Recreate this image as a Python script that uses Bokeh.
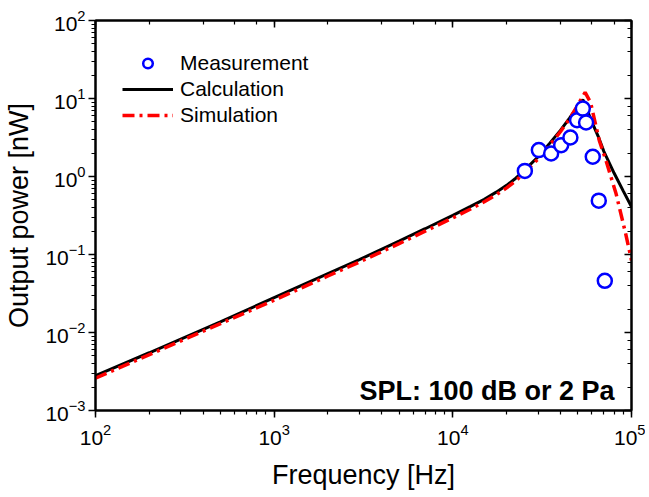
from bokeh.plotting import figure
from bokeh.models import LogAxis, CustomJSTickFormatter, LogTickFormatter, Label, Legend, LegendItem
from bokeh.embed import file_html
from bokeh.resources import INLINE

# ---- data ----
calc_freq = [100, 200, 500, 1000, 2000, 3000, 5000, 7000, 10000, 12500, 15000,
             17500, 20000, 22500, 25000, 30000, 35000, 40000, 45000, 50000, 53400,
             56000, 60000, 65000, 70000, 80000, 90000, 100000]
calc_power = [0.0028, 0.0055, 0.0137, 0.028, 0.057, 0.086, 0.148, 0.214, 0.318,
              0.41, 0.51, 0.63, 0.77, 0.95, 1.18, 1.79, 2.7, 3.9, 5.6, 7.9, 9.7,
              7.5, 5.0, 3.3, 2.1, 1.1, 0.65, 0.41]

sim_freq = [100, 1000, 2000, 3000, 5000, 7000, 10000, 12500, 15000, 17500, 20000,
            22500, 25000, 30000, 35000, 40000, 45000, 50000, 55000, 59000, 66000,
            72000, 82000, 93000, 100000]
sim_power = [0.0026, 0.026, 0.053, 0.080, 0.138, 0.199, 0.295, 0.38, 0.475, 0.585,
             0.715, 0.88, 1.1, 1.68, 2.55, 3.75, 5.5, 8.2, 12.0, 8.9, 2.9, 1.6,
             0.6, 0.18, 0.084]

meas_freq = [25300, 30300, 35500, 40400, 45500, 49600, 53400, 55700, 60700,
             65600, 70900]
meas_power = [1.18, 2.18, 1.97, 2.52, 3.16, 5.26, 7.43, 4.92, 1.79, 0.49, 0.046]

x_label = "Frequency [Hz]"
y_label = "Output power [nW]"
note = "SPL: 100 dB or 2 Pa"

FONT = "Liberation Sans"

p = figure(frame_width=536, frame_height=390,
           x_axis_type="log", y_axis_type="log",
           x_range=(1e2, 1e5), y_range=(1e-3, 1e2),
           output_backend="svg", toolbar_location=None,
           min_border_left=95, min_border_right=14,
           min_border_top=20, min_border_bottom=84)

p.xgrid.visible = False
p.ygrid.visible = False
p.outline_line_color = "black"
p.outline_line_width = 2
p.background_fill_color = "white"
p.border_fill_color = "white"

for ax, standoff in ((p.xaxis[0], 6), (p.yaxis[0], 3)):
    ax.formatter = LogTickFormatter()
    ax.axis_line_width = 2
    ax.axis_line_color = "black"
    ax.major_tick_line_width = 1.5
    ax.minor_tick_line_width = 1.2
    ax.major_tick_out = 7
    ax.major_tick_in = 0
    ax.minor_tick_out = 4
    ax.minor_tick_in = 0
    ax.major_label_standoff = standoff
    ax.major_label_text_font = FONT
    ax.major_label_text_font_size = "21px"
    ax.major_label_text_color = "black"
    ax.axis_label_text_font = FONT
    ax.axis_label_text_font_size = "27px"
    ax.axis_label_text_font_style = "normal"
    ax.axis_label_text_color = "black"

p.xaxis[0].axis_label = x_label
p.yaxis[0].axis_label = y_label
p.xaxis[0].axis_label_standoff = 12
p.yaxis[0].axis_label_standoff = 8

for side in ("above", "right"):
    ax = LogAxis(formatter=CustomJSTickFormatter(code="return '';"))
    ax.axis_line_width = 2
    ax.major_tick_line_width = 1.5
    ax.minor_tick_line_width = 1.2
    ax.major_tick_in = 7
    ax.major_tick_out = 0
    ax.minor_tick_in = 4
    ax.minor_tick_out = 0
    ax.major_label_text_font_size = "1px"
    ax.major_label_standoff = 0
    p.add_layout(ax, side)

r_calc = p.line(calc_freq, calc_power, line_color="black", line_width=3)
r_sim = p.line(sim_freq, sim_power, line_color="#ff0000", line_width=3.5,
               line_dash="12 5 3 5")
r_meas = p.scatter(meas_freq, meas_power, marker="circle", size=14,
                   line_color="#0000ff", line_width=2.5, fill_color="white")

legend = Legend(items=[LegendItem(label="Measurement", renderers=[r_meas]),
                       LegendItem(label="Calculation", renderers=[r_calc]),
                       LegendItem(label="Simulation", renderers=[r_sim])],
                location=(27, 283))
legend.border_line_color = None
legend.background_fill_alpha = 0
legend.padding = 0
legend.margin = 0
legend.spacing = 2
legend.glyph_width = 51
legend.glyph_height = 24
legend.label_height = 24
legend.label_standoff = 7
legend.label_text_font = FONT
legend.label_text_font_size = "21px"
legend.label_text_color = "black"
p.add_layout(legend)

p.add_layout(Label(x=80400, y=0.0018, text=note, text_align="right",
                   text_baseline="alphabetic", text_font=FONT,
                   text_font_size="27px", text_font_style="bold",
                   text_color="black"))

open("out.html", "w").write(file_html(p, INLINE))
